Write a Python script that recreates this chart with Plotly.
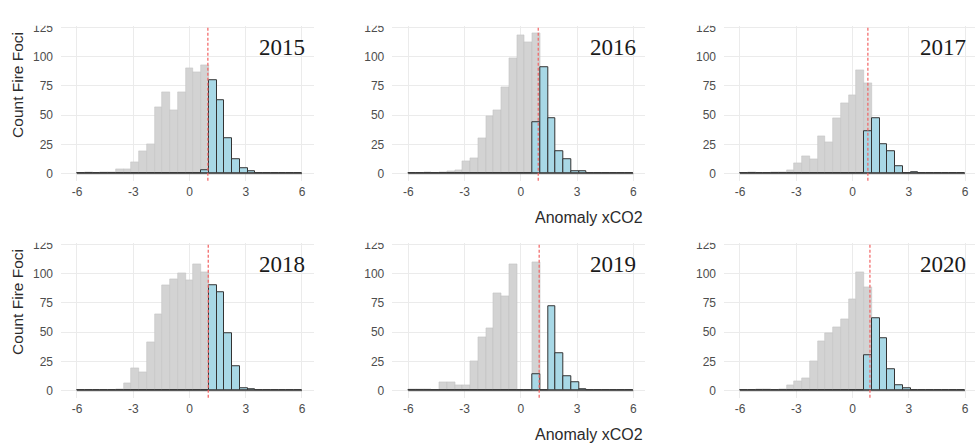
import plotly.graph_objects as go

# Histogram bins: 29 bins of equal width spanning -6 .. 6, bin k centred at k * width
BIN_WIDTH = 12 / 29
BIN_INDEX = list(range(-14, 15))

YEARS = ["2015", "2016", "2017", "2018", "2019", "2020"]

# Counts of fire foci below the threshold (grey) per bin
below_2015 = [0, 1, 0, 1, 1, 4, 4, 10, 19, 25, 57, 70, 54, 70, 90, 87, 93, 0, 0, 0, 0, 0, 0, 0, 0, 0, 0, 0, 0]
below_2016 = [0, 0, 1, 0, 1, 2, 3, 11, 13, 30, 49, 54, 74, 99, 118, 112, 120, 0, 0, 0, 0, 0, 0, 0, 0, 0, 0, 0, 0]
below_2017 = [0, 1, 0, 0, 1, 1, 3, 9, 15, 12, 32, 27, 47, 60, 67, 88, 77, 0, 0, 0, 0, 0, 0, 0, 0, 0, 0, 0, 0]
below_2018 = [0, 0, 0, 0, 0, 1, 6, 19, 16, 41, 65, 90, 95, 100, 94, 108, 101, 0, 0, 0, 0, 0, 0, 0, 0, 0, 0, 0, 0]
below_2019 = [1, 1, 1, 0, 7, 7, 5, 5, 25, 46, 53, 83, 81, 108, 0, 0, 110, 0, 0, 0, 0, 0, 0, 0, 0, 0, 0, 0, 0]
below_2020 = [0, 0, 1, 1, 0, 1, 5, 8, 11, 25, 42, 49, 54, 61, 78, 101, 88, 0, 0, 0, 0, 0, 0, 0, 0, 0, 0, 0, 0]

# Counts of fire foci above the threshold (blue) per bin
above_2015 = [0, 0, 0, 0, 0, 0, 0, 0, 0, 0, 0, 0, 0, 0, 0, 0, 3, 80, 63, 30, 12, 5, 2, 0, 0, 0, 0, 0, 0]
above_2016 = [0, 0, 0, 0, 0, 0, 0, 0, 0, 0, 0, 0, 0, 0, 0, 0, 44, 91, 47, 19, 12, 2, 2, 0, 0, 0, 0, 0, 0]
above_2017 = [0, 0, 0, 0, 0, 0, 0, 0, 0, 0, 0, 0, 0, 0, 0, 0, 36, 47, 25, 19, 6, 0, 1, 0, 0, 0, 0, 0, 0]
above_2018 = [0, 0, 0, 0, 0, 0, 0, 0, 0, 0, 0, 0, 0, 0, 0, 0, 0, 90, 84, 49, 21, 2, 1, 0, 0, 0, 0, 0, 0]
above_2019 = [0, 0, 0, 0, 0, 0, 0, 0, 0, 0, 0, 0, 0, 0, 0, 0, 14, 0, 72, 32, 12, 7, 1, 0, 0, 0, 0, 0, 0]
above_2020 = [0, 0, 0, 0, 0, 0, 0, 0, 0, 0, 0, 0, 0, 0, 0, 0, 30, 62, 45, 18, 5, 2, 0, 0, 0, 0, 0, 0, 0]

# Anomaly threshold per year (red dashed line)
threshold = [0.98, 0.93, 0.82, 1.00, 0.98, 0.93]

X_TICKS = [-6, -3, 0, 3, 6]
X_TICK_TEXT = ["-6", "-3", "0", "3", "6"]
Y_TICKS = [0, 25, 50, 75, 100, 125]
Y_TICK_TEXT = ["0", "25", "50", "75", "100", "125"]

below = [below_2015, below_2016, below_2017, below_2018, below_2019, below_2020]
above = [above_2015, above_2016, above_2017, above_2018, above_2019, above_2020]

centers = [k * BIN_WIDTH for k in BIN_INDEX]
first_edge = centers[0] - BIN_WIDTH / 2
last_edge = centers[-1] + BIN_WIDTH / 2

W, H = 975, 443
FONT = "Liberation Sans"
TICK_COLOR = "#4d4d4d"
TICK_SIZE = 12

# panel placement (pixels)
col_px = [(61.0, 313.6), (392.3, 644.9), (724.0, 975.0)]
col_range = [[-6.853, 6.619], [-6.853, 6.619], [-6.853, 6.533]]
row_px = [(20.5, 177.1), (240.5, 397.1)]
Y_RANGE = [-6, 126]

fig = go.Figure()
layout = dict(
    width=W, height=H,
    margin=dict(l=0, r=0, t=0, b=0),
    paper_bgcolor="white", plot_bgcolor="white",
    showlegend=False, barmode="overlay", bargap=0,
    font=dict(family=FONT, color=TICK_COLOR),
)
shapes = []
annotations = []

for i, year in enumerate(YEARS):
    r, c = divmod(i, 3)
    sfx = "" if i == 0 else str(i + 1)
    xa, ya = "x" + sfx, "y" + sfx

    fig.add_trace(go.Bar(
        x=centers, y=below[i], width=BIN_WIDTH, xaxis=xa, yaxis=ya,
        marker=dict(color="#d3d3d3", line=dict(color="#c2c2c2", width=0.6)),
        hoverinfo="skip",
    ))
    fig.add_trace(go.Bar(
        x=centers, y=above[i], width=BIN_WIDTH, xaxis=xa, yaxis=ya,
        marker=dict(color="#a8d8e6", line=dict(color="#333333", width=1)),
        hoverinfo="skip",
    ))
    # outline of the empty bins along the base
    fig.add_trace(go.Scatter(
        x=[first_edge, last_edge], y=[0, 0], mode="lines", xaxis=xa, yaxis=ya,
        line=dict(color="#4a4a4a", width=1), hoverinfo="skip",
    ))

    x0, x1 = col_px[c]
    ytop, ybot = row_px[r]
    layout["xaxis" + sfx] = dict(
        domain=[x0 / W, x1 / W], range=col_range[c], anchor=ya,
        tickvals=X_TICKS, ticktext=X_TICK_TEXT, ticklabelstandoff=2,
        showgrid=True, gridcolor="#ebebeb", gridwidth=1,
        zeroline=False, showline=False, ticks="",
        tickfont=dict(size=TICK_SIZE, color=TICK_COLOR, family=FONT),
        fixedrange=True,
    )
    layout["yaxis" + sfx] = dict(
        domain=[1 - ybot / H, 1 - ytop / H], range=Y_RANGE, anchor=xa,
        tickvals=Y_TICKS, ticktext=Y_TICK_TEXT, ticklabelstandoff=7,
        showgrid=True, gridcolor="#ebebeb", gridwidth=1,
        zeroline=False, showline=False, ticks="",
        tickfont=dict(size=TICK_SIZE, color=TICK_COLOR, family=FONT),
        fixedrange=True,
    )

    shapes.append(dict(
        type="line", xref=xa, yref=ya + " domain",
        x0=threshold[i], x1=threshold[i], y0=0, y1=1,
        line=dict(color="#f26262", width=1.2, dash="3px,2px"),
        layer="above",
    ))
    annotations.append(dict(
        text=year, xref=xa + " domain", yref=ya + " domain",
        x=1, y=0.865, xanchor="right", yanchor="middle", xshift=-7,
        showarrow=False,
        font=dict(family="Liberation Serif", size=23, color="#1a1a1a"),
    ))

# the top tick label of each panel is trimmed along the top edge
for r, (ytop, _) in enumerate(row_px):
    for c, (x0, _) in enumerate(col_px):
        shapes.append(dict(
            type="rect", xref="paper", yref="paper",
            x0=(x0 - 42) / W, x1=(x0 - 1) / W,
            y0=1 - (ytop - 0.5) / H, y1=1 - (ytop - 21) / H,
            fillcolor="white", line=dict(width=0), layer="above",
        ))

for ycen in (80, 300):
    annotations.append(dict(
        text="Count Fire Foci", xref="paper", yref="paper",
        x=18 / W, y=1 - ycen / H, textangle=-90,
        xanchor="center", yanchor="middle", showarrow=False,
        font=dict(family=FONT, size=15.5, color="#2b2b2b"),
    ))
for ycen in (214, 434):
    annotations.append(dict(
        text="Anomaly xCO2", xref="paper", yref="paper",
        x=645 / W, y=1 - ycen / H, xanchor="right", yanchor="middle",
        showarrow=False,
        font=dict(family=FONT, size=16, color="#2b2b2b"),
    ))

layout["shapes"] = shapes
layout["annotations"] = annotations
fig.update_layout(**layout)
fig.write_html("out.html")
